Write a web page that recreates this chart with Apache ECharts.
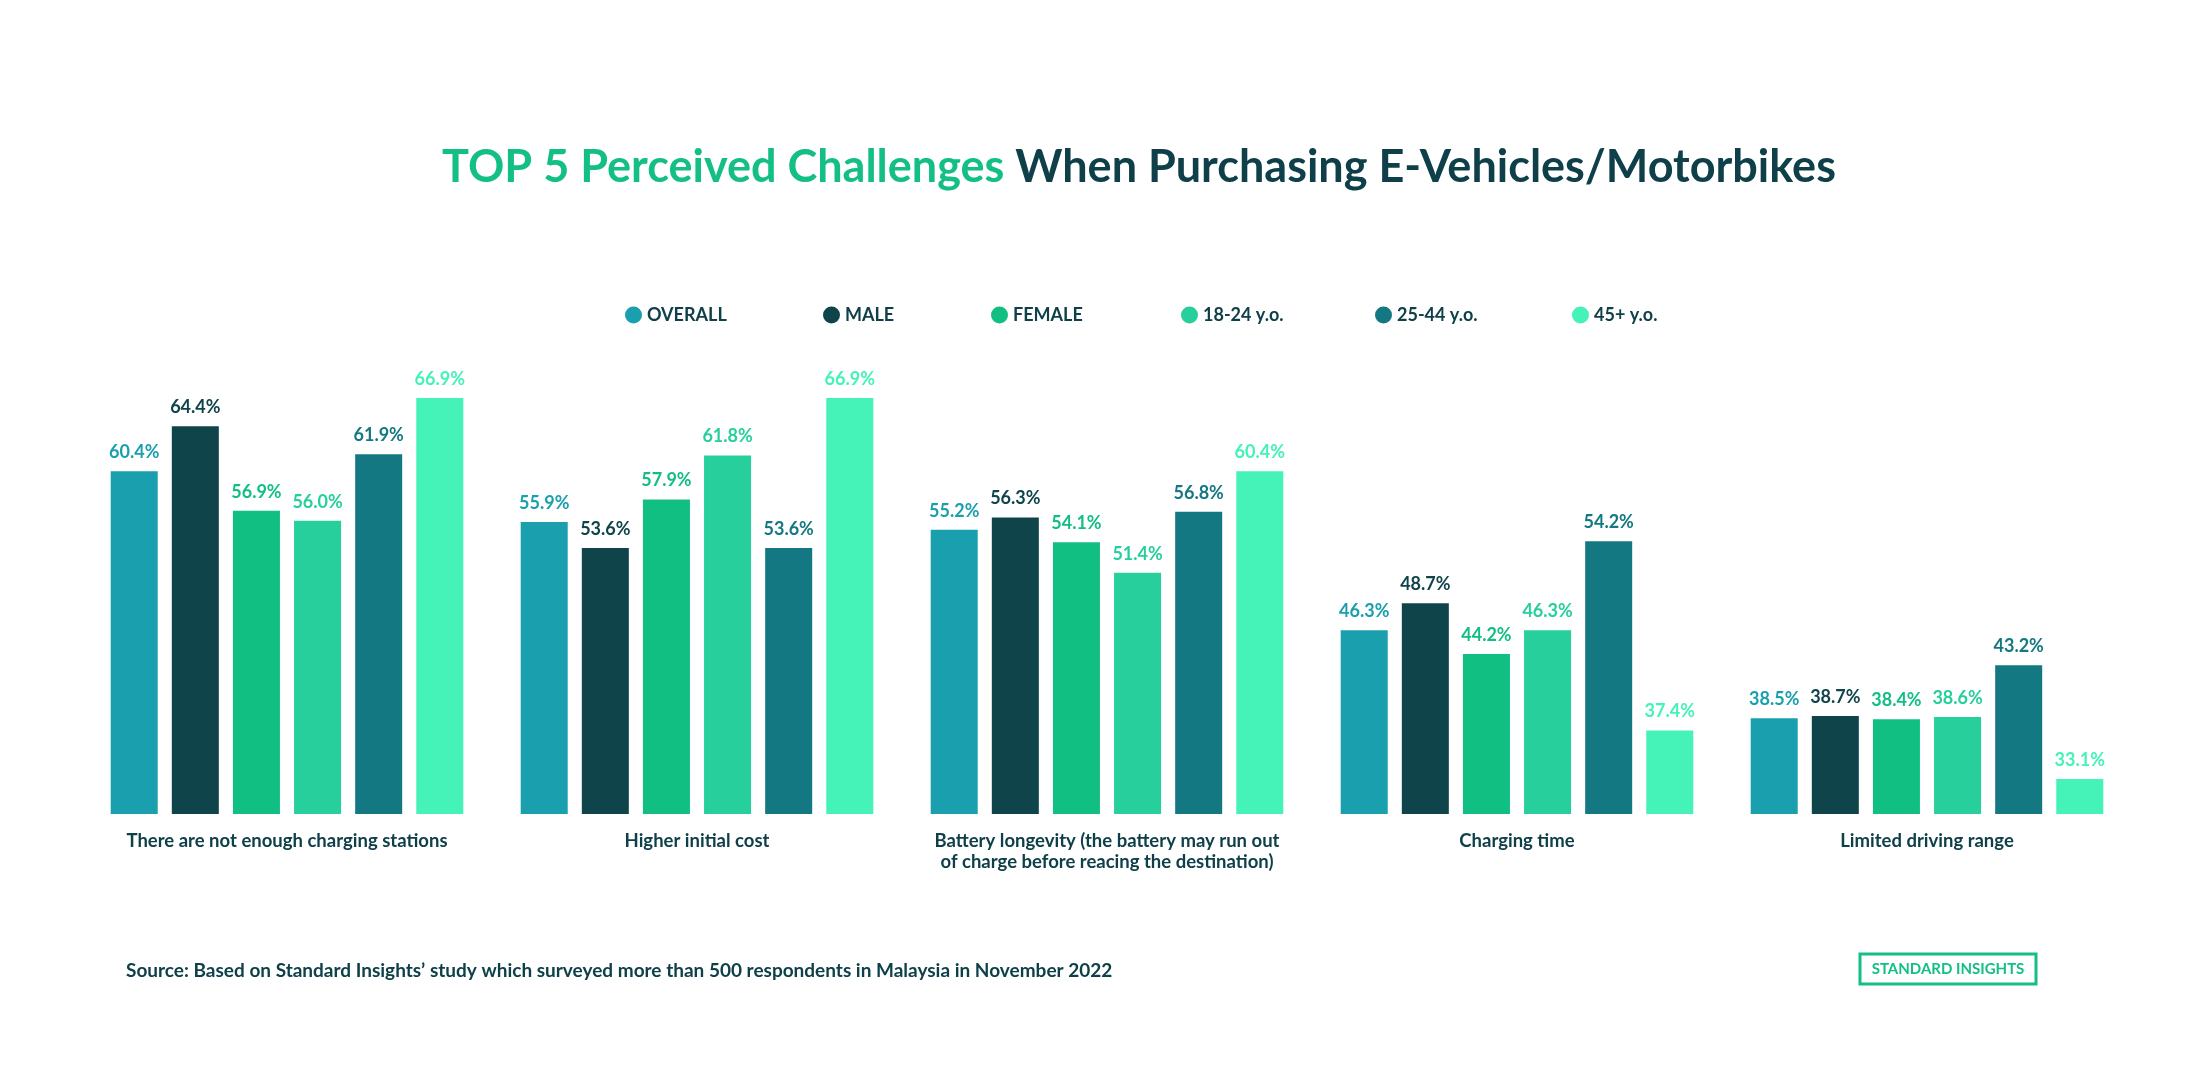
<!DOCTYPE html>
<html><head><meta charset="utf-8">
<script src="https://cdn.jsdelivr.net/npm/echarts@6/dist/echarts.min.js"></script>
<style>html,body{margin:0;padding:0;background:#fff;}#c{width:2206px;height:1080px;}</style>
</head><body><div id="c"></div>
<script>
const categories = ['There are not enough charging stations','Higher initial cost','Battery longevity (the battery may run out\nof charge before reacing the destination)','Charging time','Limited driving range'];
const seriesNames = ['OVERALL','MALE','FEMALE','18-24 y.o.','25-44 y.o.','45+ y.o.'];
const overall = [60.4, 55.9, 55.2, 46.3, 38.5];
const male    = [64.4, 53.6, 56.3, 48.7, 38.7];
const female  = [56.9, 57.9, 54.1, 44.2, 38.4];
const age1824 = [56.0, 61.8, 51.4, 46.3, 38.6];
const age2544 = [61.9, 53.6, 56.8, 54.2, 43.2];
const age45   = [66.9, 66.9, 60.4, 37.4, 33.1];
const seriesData = [overall, male, female, age1824, age2544, age45];
const colors = ['#199FAE','#10444B','#12BF83','#27CF9C','#147882','#45F2B7'];
const dark = '#0F4049';
const green = '#13BF84';
const FONT = 'Lato, "Open Sans", sans-serif';
const legendLeft = [620, 818, 986, 1176, 1370, 1567];

const chart = echarts.init(document.getElementById('c'), null, {renderer:'canvas'});
chart.setOption({
  backgroundColor:'#fff',
  animation:false,
  textStyle:{fontFamily:FONT},
  title:[{
    text:'{g|TOP 5 Perceived Challenges }{d|When Purchasing E-Vehicles/Motorbikes}',
    left:1134, top:140, textAlign:'center',
    textStyle:{rich:{
      g:{color:green,fontSize:45,fontWeight:'bold',fontFamily:FONT},
      d:{color:dark,fontSize:45,fontWeight:'bold',fontFamily:FONT}
    }}
  },{
    text:'Source: Based on Standard Insights\u2019 study which surveyed more than 500 respondents in Malaysia in November 2022',
    left:121, top:956,
    textStyle:{color:dark,fontSize:19,fontWeight:'bold',fontFamily:FONT}
  }],
  graphic:[{
    type:'rect', shape:{x:1860,y:954,width:176,height:30},
    style:{fill:'#fff',stroke:green,lineWidth:3}
  },{
    type:'text', x:1948, y:969,
    style:{text:'STANDARD INSIGHTS',fill:green,font:'bold 15px '+FONT,textAlign:'center',textVerticalAlign:'middle'}
  }],
  legend: seriesNames.map((n,i)=>({
    left:legendLeft[i], top:301,
    icon:'circle', itemWidth:17, itemHeight:17, itemGap:10,
    textStyle:{color:dark,fontSize:18,fontWeight:'bold',fontFamily:FONT},
    data:[n]
  })),
  grid:{left:82, right:74, top:363, bottom:266, containLabel:false},
  xAxis:{
    type:'category', data:categories,
    axisLine:{show:false}, axisTick:{show:false},
    axisLabel:{color:dark,fontSize:18.5,fontWeight:'bold',margin:17,lineHeight:21,interval:0,fontFamily:FONT}
  },
  yAxis:{
    type:'value', min:30, max:70,
    show:false, splitLine:{show:false}
  },
  series: seriesNames.map((n,i)=>({
    name:n, type:'bar', data:seriesData[i],
    barGap:'30%', barCategoryGap:'14%',
    itemStyle:{color:colors[i]},
    label:{show:true, position:'top', distance:10, color:colors[i], fontSize:18, fontWeight:'bold',
      fontFamily:FONT, formatter:p=>p.value.toFixed(1)+'%'}
  }))
});
</script></body></html>
